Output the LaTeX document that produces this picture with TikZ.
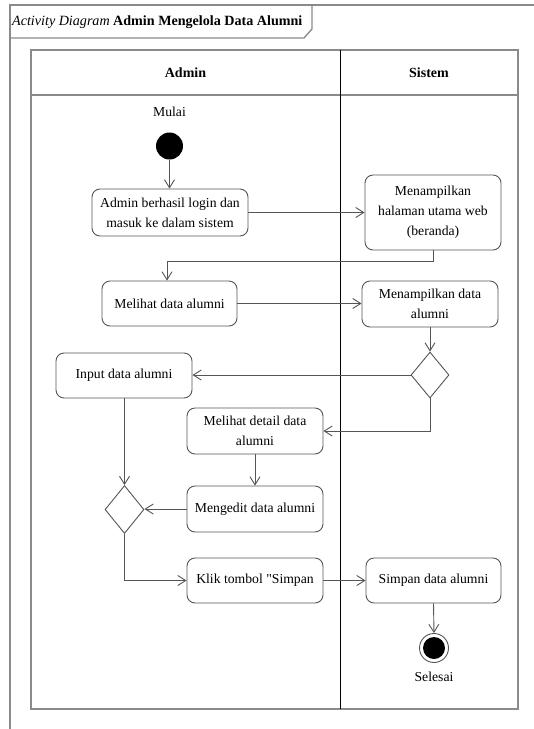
\documentclass[tikz,border=0pt]{standalone}
\usepackage{fontspec}
\setmainfont{Liberation Serif}
\usetikzlibrary{arrows.meta,shapes.geometric}
\definecolor{ln}{HTML}{555555}
\definecolor{fr}{HTML}{8A8A8A}
\begin{document}
\begin{tikzpicture}[x=1pt,y=-1pt,
 act/.style={draw=ln, line width=0.9pt, rounded corners=8pt, fill=white, align=center, inner sep=0pt, font=\fontsize{13.7}{20}\selectfont},
 flow/.style={draw=ln, line width=0.9pt, -{Straight Barb[length=8pt,width=10pt]}},
 dec/.style={draw=ln, line width=0.9pt, diamond, inner sep=0pt, minimum width=38pt, minimum height=46pt, fill=white},
 lbl/.style={font=\fontsize{13.7}{20}\selectfont, inner sep=0pt},
 hdr/.style={font=\fontsize{14}{16}\selectfont\bfseries, inner sep=0pt},
 frame/.style={draw=fr, line width=1.3pt}
]
\useasboundingbox (0,0) rectangle (534,729);
% outer frame and title tab
\draw[frame] (534,5) -- (10,5) -- (10,729);
\draw[frame] (312,5) -- (312,29) -- (304,38) -- (10,38);
\node[anchor=west, font=\fontsize{14.1}{16}\selectfont, inner sep=0pt] (title) at (12,22) {\textit{Activity Diagram} \textbf{Admin Mengelola Data Alumni}};
% swimlanes
\draw[frame] (31,50) rectangle (518,709);
\draw[frame] (31,95) -- (518,95);
\draw[black, line width=0.9pt] (340,50) -- (340,709);
\node[hdr] (hadmin) at (185.5,73) {Admin};
\node[hdr] (hsistem) at (429,73) {Sistem};
% nodes
\node[lbl] (mulai) at (169.5,112) {Mulai};
\node[circle, fill=black, minimum size=27pt, inner sep=0pt] (start) at (169.5,146) {};
\node[act, minimum width=156pt, minimum height=47pt] (n1) at (170,212.5) {Admin berhasil login dan\\masuk ke dalam sistem};
\node[act, minimum width=136pt, minimum height=75pt] (n2) at (433,212.5) {Menampilkan\\halaman utama web\\(beranda)};
\node[act, minimum width=135pt, minimum height=45pt] (n3) at (169.5,303.5) {Melihat data alumni};
\node[act, minimum width=136pt, minimum height=46pt] (n4) at (430,304) {Menampilkan data\\alumni};
\node[dec] (d1) at (430,375) {};
\node[act, minimum width=136pt, minimum height=45pt] (n5) at (124,375.5) {Input data alumni};
\node[act, minimum width=136pt, minimum height=46pt] (n6) at (255,431) {Melihat detail data\\alumni};
\node[act, minimum width=136pt, minimum height=46pt] (n7) at (255,509) {Mengedit data alumni};
\node[dec, minimum width=39pt, minimum height=48pt] (d2) at (124.5,509.5) {};
\node[act, minimum width=136pt, minimum height=45pt] (n8) at (255,580.5) {Klik tombol \textquotedbl Simpan};
\node[act, minimum width=135pt, minimum height=45pt] (n9) at (433.5,580.5) {Simpan data alumni};
\node[circle, draw=ln, line width=0.9pt, fill=white, minimum size=29pt, inner sep=0pt] (end) at (434,648) {};
\node[circle, fill=black, minimum size=22pt, inner sep=0pt] (endin) at (end) {};
\node[lbl] (selesai) at (434,677) {Selesai};
% flows
\draw[flow] (start) -- (n1.north -| start);
\draw[flow] (n1.east) -- (n2.west |- n1.east);
\draw[flow] (n2.south) -- ++(0,10.5) -| ([xshift=-2.5pt]n3.north);
\draw[flow] (n3.east) -- (n4.west |- n3.east);
\draw[flow] (n4.south) -- (d1.north);
\draw[flow] (d1.west) -- (n5.east |- d1.west);
\draw[flow] (d1.south) |- (n6.east);
\draw[flow] (n6.south) -- (n7.north);
\draw[flow] (n7.west) -- (d2.east |- n7.west);
\draw[flow] (n5.south -| d2.north) -- (d2.north);
\draw[flow] (d2.south) |- (n8.west);
\draw[flow] (n8.east) -- (n9.west);
\draw[flow] (n9.south) -- (end.north);
\end{tikzpicture}
\end{document}
